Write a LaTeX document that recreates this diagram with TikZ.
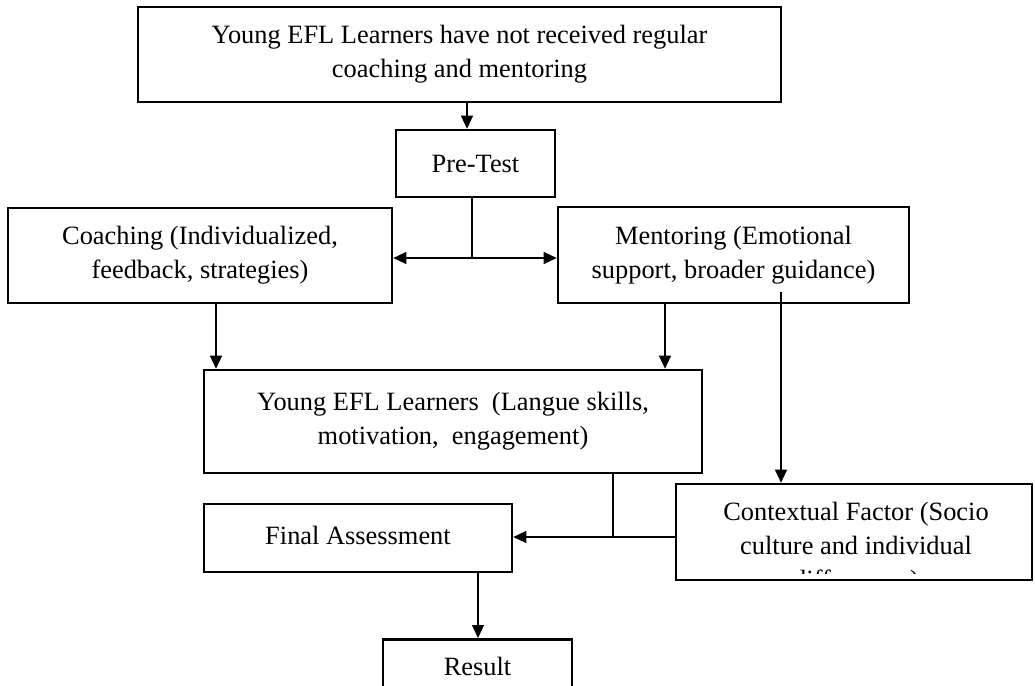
\documentclass[tikz,border=0pt]{standalone}
\usepackage{fontspec}
\setmainfont{Liberation Serif}
\usetikzlibrary{arrows.meta}
\begin{document}
\begin{tikzpicture}[x=1pt,y=-1pt,
  box/.style={draw, line width=2.6pt, align=center, inner sep=0pt, font=\fontsize{26.4}{34}\selectfont},
  lbl/.style={align=center, inner sep=0pt, font=\fontsize{26.4}{34}\selectfont},
  conn/.style={line width=1.3pt},
  arr/.style={conn, -{Triangle[length=13pt,width=12pt]}}]
\useasboundingbox (0,0) rectangle (1035,685);
\clip (0,0) rectangle (1035,685);
\node[box, minimum width=643pt, minimum height=95pt] (top) at (459.5,54.5) {Young EFL Learners have not received regular\\coaching and mentoring};
\node[box, minimum width=159pt, minimum height=67pt] (pre) at (475.5,163.5) {Pre-Test};
\node[box, minimum width=384pt, minimum height=95pt] (coach) at (200,255.5) {Coaching (Individualized,\\feedback, strategies)};
\node[box, minimum width=351pt, minimum height=96pt] (ment) at (733.5,255) {Mentoring (Emotional\\support, broader guidance)};
\node[box, minimum width=498pt, minimum height=103pt] (young) at (453,421.5) {Young EFL Learners\ \ (Langue skills,\\motivation,\ \ engagement)};
\node[box, minimum width=356pt, minimum height=96pt] (ctx) at (854,532) {};
\begin{scope}
\clip (676,484) rectangle (1032,573);
\node[lbl] (ctxtext) at (856,548) {Contextual Factor (Socio\\culture and individual\\differences)};
\end{scope}
\node[box, minimum width=308pt, minimum height=68pt, text depth=6pt] (final) at (358,538) {Final Assessment};
\node[box, anchor=north, minimum width=189pt, minimum height=54pt] (result) at (477.5,638) {Result};
% connectors
\draw[arr] ([xshift=7.5pt]top.south) -- ([xshift=7.5pt]top.south |- pre.north);
\coordinate (j1) at (472,258);
\draw[conn] (472,0 |- pre.south) -- (j1);
\draw[arr] (j1) -- (j1 -| coach.east);
\draw[arr] (j1) -- (j1 -| ment.west);
\draw[arr] (216,0 |- coach.south) -- (216,0 |- young.north);
\draw[arr] (665,0 |- ment.south) -- (665,0 |- young.north);
\coordinate (m1) at (781,292);
\draw[arr] (m1) -- (m1 |- ctx.north);
\coordinate (j2) at (613,537);
\draw[conn] (613,0 |- young.south) -- (j2);
\draw[arr] (ctx.west |- j2) -- (final.east |- j2);
\draw[arr] (478,0 |- final.south) -- (478,0 |- result.north);
\end{tikzpicture}
\end{document}
